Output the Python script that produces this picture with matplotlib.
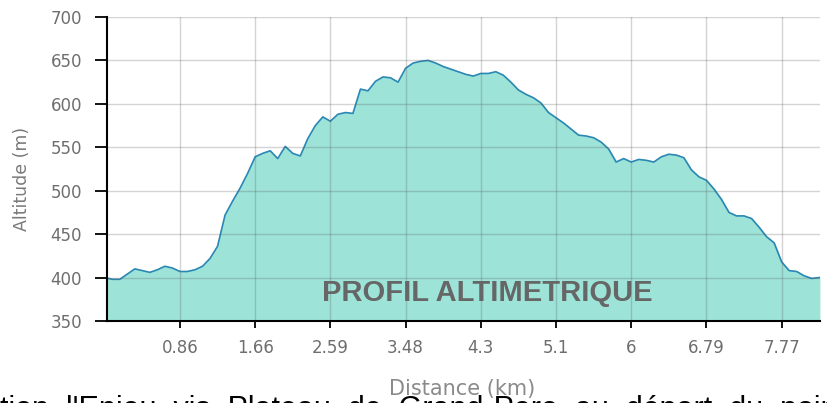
import numpy as np
import matplotlib.pyplot as plt

# Altitude profile (m), one point per sample along the trail
altitude = [400, 398, 398, 404, 410, 408, 406, 409, 413, 411,
            407, 407, 409, 413, 422, 436, 472, 488, 503, 520,
            539, 543, 546, 537, 551, 543, 540, 560, 575, 585,
            580, 588, 590, 589, 617, 615, 626, 631, 630, 625,
            641, 647, 649, 650, 647, 643, 640, 637, 634, 632,
            635, 635, 637, 633, 625, 616, 611, 607, 601, 590,
            584, 578, 571, 564, 563, 561, 556, 548, 533, 537,
            533, 536, 535, 533, 539, 542, 541, 538, 524, 516,
            512, 502, 490, 475, 471, 471, 468, 458, 447, 440,
            418, 408, 407, 402, 399, 400]

# Distance labels (km) shown every 10 samples
tick_index = [10, 20, 30, 40, 50, 60, 70, 80, 90]
tick_labels = ['0.86', '1.66', '2.59', '3.48', '4.3', '5.1', '6', '6.79', '7.77']

y_ticks = [350, 400, 450, 500, 550, 600, 650, 700]

x = np.arange(len(altitude))

fig = plt.figure(figsize=(8.28, 4.03), dpi=100)
ax = fig.add_axes([0.1292, 0.2035, 0.8611, 0.7543])

ax.fill_between(x, altitude, 350, color='#9de3d8', zorder=1)
ax.plot(x, altitude, color='#2b88b4', linewidth=1.2, zorder=2)

ax.set_xlim(0.3, 95.1)
ax.set_ylim(350, 700)
ax.set_xticks(tick_index)
ax.set_xticklabels(tick_labels)
ax.set_yticks(y_ticks)

ax.grid(True, color='#555555', alpha=0.25, linewidth=1, zorder=3)
ax.set_axisbelow(False)

for side in ['top', 'right']:
    ax.spines[side].set_visible(False)
for side in ['left', 'bottom']:
    ax.spines[side].set_color('black')
    ax.spines[side].set_linewidth(1.5)
    ax.spines[side].set_zorder(4)

ax.tick_params(axis='both', direction='out', width=1.3, color='black',
               labelcolor='#6e6e6e', labelsize=12)
ax.tick_params(axis='x', length=5, pad=8)
ax.tick_params(axis='y', length=9, pad=9)

# axis titles
fig.text(0.027, 0.556, 'Altitude (m)', color='#7a7a7a', fontsize=12.5, rotation=90,
         ha='center', va='center')
fig.text(0.558, 0.035, 'Distance (km)', color='#8a8a8a', fontsize=15, ha='center', va='center')

ax.text(0.533, 0.092, 'PROFIL ALTIMETRIQUE', transform=ax.transAxes, ha='center', va='center',
        fontsize=21, fontweight='bold', color='#666666', family='Liberation Sans', zorder=5)

# page text below the chart, cut off by the frame
fig.text(0.0, -0.036, "tion  l'Enjeu  vis  Plateau  de  Grand-Pere  au  départ  du  point  de  l",
         fontsize=22, color='black', family='Liberation Sans', ha='left', va='baseline')

fig.savefig('out.png', dpi=100)
